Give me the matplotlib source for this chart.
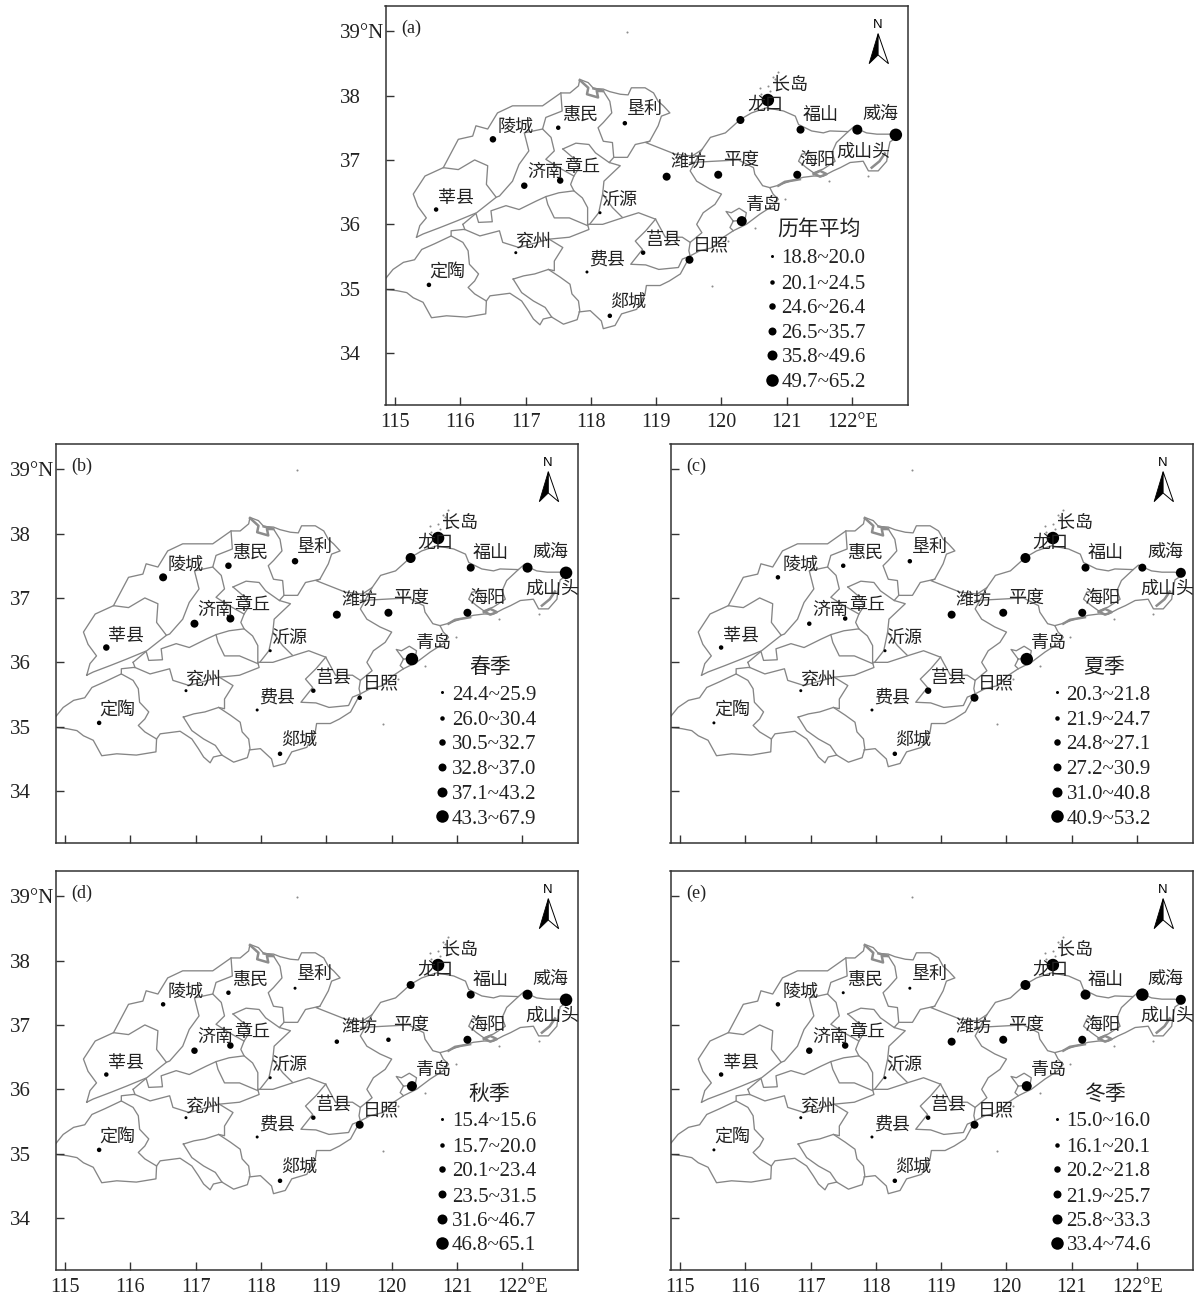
import numpy as np
import matplotlib
matplotlib.use("Agg")
import matplotlib.pyplot as plt

plt.rcParams['font.family'] = ['Liberation Serif', 'Noto Sans CJK SC']

stations = ["陵城","惠民","垦利","莘县","济南","章丘","沂源","兖州","定陶","费县","莒县",
            "郯城","日照","青岛","潍坊","平度","海阳","龙口","长岛","福山","威海","成山头"]
lons = [116.50,117.50,118.52,115.63,116.98,117.53,118.14,116.85,115.52,117.94,118.80,
        118.29,119.51,120.31,119.16,119.95,121.16,120.29,120.71,121.21,122.08,122.67]
lats = [37.32,37.50,37.57,36.23,36.60,36.68,36.18,35.56,35.06,35.26,35.56,
        34.58,35.45,36.05,36.74,36.77,36.77,37.62,37.93,37.47,37.47,37.39]
label_lon = [116.84,117.83,118.83,115.93,117.30,117.86,118.43,117.13,115.80,118.25,119.12,
             118.58,119.84,120.65,119.50,120.30,121.46,120.67,121.05,121.52,122.43,122.46]
label_lat = [37.51,37.68,37.78,36.41,36.81,36.89,36.37,35.73,35.25,35.44,35.75,
             34.78,35.67,36.29,36.97,37.00,36.99,37.85,38.16,37.68,37.70,37.14]

# class (1-6) of each station per panel, same order as stations
class_a = [3,2,2,2,3,3,1,1,2,1,2,2,4,5,4,4,4,4,6,4,5,6]
class_b = [4,3,3,3,4,4,1,1,2,1,2,2,2,6,4,4,4,5,6,4,5,6]
class_c = [2,2,2,2,2,2,1,1,1,1,3,2,4,6,4,4,4,5,6,4,4,5]
class_d = [2,2,1,2,3,3,1,1,2,1,2,2,4,5,2,2,4,4,6,4,5,6]
class_e = [2,1,1,2,3,3,1,1,1,1,2,2,4,5,4,4,4,5,6,5,6,5]

legend_a = ["18.8~20.0","20.1~24.5","24.6~26.4","26.5~35.7","35.8~49.6","49.7~65.2"]
legend_b = ["24.4~25.9","26.0~30.4","30.5~32.7","32.8~37.0","37.1~43.2","43.3~67.9"]
legend_c = ["20.3~21.8","21.9~24.7","24.8~27.1","27.2~30.9","31.0~40.8","40.9~53.2"]
legend_d = ["15.4~15.6","15.7~20.0","20.1~23.4","23.5~31.5","31.6~46.7","46.8~65.1"]
legend_e = ["15.0~16.0","16.1~20.1","20.2~21.8","21.9~25.7","25.8~33.3","33.4~74.6"]

diam = [3,4.5,6.5,8,10,12.5]  # marker diameter in px for each class

# boundaries, lon/lat
boundaries = [
    # dingtao
    [(114.85,35.15),(114.97,35.30),(115.13,35.41),(115.30,35.45),(115.41,35.61),(115.61,35.70),(115.86,35.82),
     (116.04,35.72),(116.12,35.59),(116.14,35.38),(116.28,35.23),(116.22,35.12),(116.12,35.02),(116.22,34.92),
     (116.40,34.81),(116.39,34.61),(116.09,34.56),(115.79,34.58),(115.56,34.55),(115.43,34.79),(115.28,34.86),
     (115.18,34.94),(115.03,34.97),(114.85,34.99)],
    # xian
    [(115.33,35.80),(115.38,35.98),(115.48,36.10),(115.35,36.28),(115.28,36.47),(115.46,36.75),(115.74,36.88),
     (115.97,36.85),(116.22,37.00),(116.42,36.91),(116.40,36.62),(116.55,36.42),(116.25,36.18),(115.94,36.05),
     (115.69,35.95),(115.43,35.85),(115.33,35.80)],
    # north and east coast
    [(115.74,36.88),(115.97,37.32),(116.19,37.37),(116.24,37.53),(116.42,37.48),(116.57,37.73),(116.80,37.84),
     (117.26,37.84),(117.54,38.04),(117.68,38.04),(117.81,38.15),(117.83,38.25),(117.96,38.20),(118.04,38.11),
     (118.19,38.10),(118.29,38.06),(118.45,38.02),(118.57,38.01),(118.62,38.12),(118.83,38.12),(118.96,38.04),
     (119.03,37.91),(119.11,37.84),(119.21,37.73),(119.08,37.68),(119.03,37.53),(118.90,37.29),(118.84,37.27),
     (119.04,37.19),(119.29,37.09),(119.55,37.06),(119.70,37.16),(119.83,37.35),(120.06,37.42),(120.29,37.63),
     (120.46,37.73),(120.69,37.81),(120.95,37.76),(121.13,37.68),(121.18,37.55),(121.38,37.45),(121.56,37.42),
     (121.66,37.45),(121.94,37.44),(122.02,37.51),(122.22,37.42),(122.38,37.40),(122.58,37.40),(122.70,37.36),
     (122.58,37.28),(122.55,37.14),(122.53,36.98),(122.40,36.83),(122.25,36.83),(122.17,36.98),(121.97,36.96),
     (121.82,36.88),(121.71,36.83),(121.56,36.75),(121.41,36.75),(121.25,36.73),(121.05,36.67),(120.85,36.60),
     (120.74,36.57),(120.79,36.47),(120.87,36.39),(120.79,36.29),(120.59,36.16),(120.38,36.00),(120.18,35.90),
     (120.03,35.80),(119.87,35.64),(119.67,35.59),(119.52,35.51),(119.37,35.23),(119.20,35.12),(119.06,35.05),
     (118.85,35.05),(118.83,34.92),(118.70,34.68),(118.47,34.61),(118.37,34.43),(118.19,34.38),(118.16,34.50),
     (117.99,34.66),(117.82,34.64)],
    # zaozhuang
    [(116.81,35.15),(116.97,35.20),(117.14,35.23),(117.35,35.30),(117.53,35.18),(117.68,35.07),(117.71,34.92),
     (117.81,34.81),(117.83,34.66),(117.79,34.52),(117.58,34.45),(117.40,34.56),(117.30,34.71),(117.12,34.81),
     (116.94,34.94),(116.81,35.15)],
    [(116.40,34.81),(116.455,34.89),(116.76,34.93),(116.94,34.81),(117.04,34.66),(117.12,34.53),(117.22,34.44),
     (117.27,34.53),(117.40,34.56)],
    # taian top
    [(116.04,36.00),(116.24,36.17),(116.28,36.03),(116.49,36.04),(116.47,36.21),(116.70,36.29),(116.90,36.23),
     (117.16,36.36),(117.31,36.43),(117.51,36.49),(117.74,36.52),(117.87,36.41),(117.95,36.26),(117.95,36.00),
     (118.18,36.00),(118.33,36.05),(118.51,36.11),(118.73,36.18),(118.99,36.08)],
    [(117.31,36.43),(117.34,36.31),(117.44,36.10),(117.67,36.10),(117.95,35.98)],
    # jining top
    [(115.86,35.82),(115.86,35.90),(116.04,35.92),(116.07,35.92),(116.30,35.82),(116.60,35.90),(116.65,35.72),
     (116.90,35.64),(117.36,35.77),(117.57,35.64),(117.44,35.43),(117.44,35.28),(117.35,35.30)],
    [(116.04,36.00),(116.07,35.92)],
    [(117.36,35.77),(117.67,35.80),(117.97,35.92),(117.95,36.00)],
    # jinan
    [(117.54,38.04),(117.56,37.76),(117.31,37.66),(117.26,37.48),(117.39,37.35),(117.44,37.14),(117.31,37.01),
     (117.51,36.88),(117.74,36.75),(117.69,36.62),(117.74,36.52)],
    [(117.26,37.48),(116.98,37.42),(117.05,37.14),(116.90,36.93),(116.80,36.67),(116.60,36.44),(116.55,36.42)],
    # binzhou
    [(118.19,38.07),(118.29,37.91),(118.32,37.73),(118.19,37.58),(118.11,37.50),(118.19,37.29),(118.33,37.27),
     (118.35,37.04),(118.28,36.96),(118.45,36.91),(118.20,36.67),(118.18,36.47),(118.33,36.26),(118.48,36.11)],
    [(118.18,36.47),(118.12,36.18),(117.98,36.00)],
    [(117.57,37.17),(117.77,37.26),(117.97,37.24),(118.07,37.11),(118.28,36.96)],
    [(117.57,37.17),(117.72,37.04),(117.82,36.88),(117.74,36.75)],
    [(118.35,37.04),(118.56,37.04),(118.68,37.24),(118.90,37.29)],
    # weifang / qingdao
    [(119.70,37.16),(119.52,36.83),(119.62,36.67),(119.82,36.55),(120.00,36.47),(119.90,36.31),(119.72,36.18),
     (119.62,36.00),(119.70,35.87),(119.52,35.72),(119.50,35.59),(119.52,35.51)],
    # ju xian
    [(118.99,36.08),(118.84,35.90),(118.68,35.74),(118.79,35.61),(118.61,35.38),(118.84,35.37),(119.04,35.30),
     (119.34,35.33),(119.40,35.46),(119.52,35.51)],
    [(118.99,36.08),(119.14,35.80),(119.40,35.80),(119.52,35.72)],
    # pingdu
    [(119.52,36.96),(120.26,37.00),(120.49,36.88),(120.51,36.78),(120.63,36.60),(120.74,36.57)],
    # weihai
    [(121.94,37.44),(121.76,37.27),(121.69,37.11),(121.74,36.98),(121.56,36.86),(121.41,36.80),(121.30,36.88),
     (121.18,36.98),(121.23,37.09),(121.38,37.11)],
    # jiaozhou bay
    [(120.18,35.90),(120.13,35.95),(120.18,36.05),(120.36,36.07),(120.38,36.18),(120.27,36.25),(120.15,36.18),
     (120.07,36.20),(120.18,36.05)],
]
scribbles = [
    [(117.83,38.24),(117.96,38.12),(117.94,38.02),(118.11,37.97),(118.09,38.07),(118.19,38.07),(118.04,38.11)],
    [(121.41,36.78),(121.51,36.83),(121.61,36.78),(121.51,36.74),(121.43,36.78)],
    [(120.87,36.60),(120.97,36.66),(121.20,36.70)],
    [(122.30,36.88),(122.42,36.98),(122.50,37.10)],
]
island_lon = [120.86,120.79,120.71,120.59,120.60,120.74,120.82,118.55,119.86,120.51,120.10,122.25,121.64,120.98]
island_lat = [38.36,38.29,38.15,38.11,38.02,38.07,38.25,38.99,35.05,35.95,35.74,36.75,36.67,36.39]

xticks = [115,116,117,118,119,120,121,122]
xticklabels = ["115","116","117","118","119","120","121","122°E"]
yticks = [34,35,36,37,38,39]
yticklabels = ["34","35","36","37","38","39°N"]

W, H = 1194, 1295
AW, AH = 522.5, 399.0
legend_rows = [248,274,298,323,347.5,372]

fig = plt.figure(figsize=(W/100, H/100), dpi=100)

def panel(left, top, tag, title, classes, legend, show_x, show_y, shift=0):
    bottom = top + AH
    ax = fig.add_axes([left/W, 1-bottom/H, AW/W, AH/H])
    ax.set_xlim(114.855, 122.856)
    ax.set_ylim(33.195, 39.39)
    for b in boundaries:
        arr = np.array(b)
        ax.plot(arr[:,0], arr[:,1], color="#858585", lw=0.95, solid_joinstyle="round", zorder=1)
    for b in scribbles:
        arr = np.array(b)
        ax.plot(arr[:,0], arr[:,1], color="#8c8c8c", lw=1.8, zorder=1)
    ax.scatter(island_lon, island_lat, s=2.2, color="#8c8c8c", lw=0, zorder=1)

    sizes = [(diam[c-1]*0.72)**2 for c in classes]
    ax.scatter(lons, lats, s=sizes, color="black", lw=0, zorder=3)
    for i, name in enumerate(stations):
        lx, ly = label_lon[i], label_lat[i]
        if tag == "(a)" and name == "成山头":
            lx, ly = 122.17, 37.12
        ax.text(lx, ly, name, fontsize=13, color="#222222", ha="center", va="center", zorder=4)

    ax.set_xticks(xticks)
    ax.set_yticks(yticks)
    ax.set_yticklabels(yticklabels if show_y else [])
    ax.set_xticklabels(xticklabels if show_x else [])
    ax.tick_params(direction="in", length=6, width=1.0, color="#333333", labelcolor="#222222")
    ax.tick_params(axis="x", labelsize=14.5, pad=6)
    ax.tick_params(axis="y", labelsize=15, pad=33)
    for l in ax.get_yticklabels():
        l.set_ha("left")
    for s in ax.spines.values():
        s.set_linewidth(1.1)
        s.set_color("#333333")

    tr = ax.transAxes
    ax.text(16/AW, 1-22/AH, tag, transform=tr, fontsize=13, color="#222222", ha="left", va="center")

    # north arrow
    ax.fill([492.6/AW,483.6/AW,492.6/AW], [1-27.7/AH,1-57.7/AH,1-49/AH], color="black", lw=0.6, transform=tr, zorder=5)
    ax.fill([492.6/AW,503/AW,492.6/AW], [1-27.7/AH,1-57.7/AH,1-49/AH], facecolor="white", edgecolor="black",
            lw=0.7, transform=tr, zorder=5)
    ax.text(492.3/AW, 1-19/AH, "N", transform=tr, fontsize=9.5, family="Liberation Sans", color="black",
            ha="center", va="center")

    # legend
    ax.text(434/AW, 1-224/AH, title, transform=tr, fontsize=15, color="#222222", ha="center", va="center")
    for k in range(6):
        row = legend_rows[k] + shift
        ax.scatter([386/AW], [1-row/AH], s=(diam[k]*0.72)**2, color="black", lw=0,
                   transform=tr, zorder=5)
        ax.text(396/AW, 1-(row+3)/AH, legend[k], transform=tr, fontsize=15, color="#222222",
                ha="left", va="center")
    return ax

panel(385.5, 6, "(a)", "历年平均", class_a, legend_a, True, True, shift=1.5)
panel(55.7, 444, "(b)", "春季", class_b, legend_b, False, True)
panel(670.5, 444, "(c)", "夏季", class_c, legend_c, False, False)
panel(55.7, 871, "(d)", "秋季", class_d, legend_d, True, True)
panel(670.5, 871, "(e)", "冬季", class_e, legend_e, True, False)

fig.savefig("out.png", dpi=100)
